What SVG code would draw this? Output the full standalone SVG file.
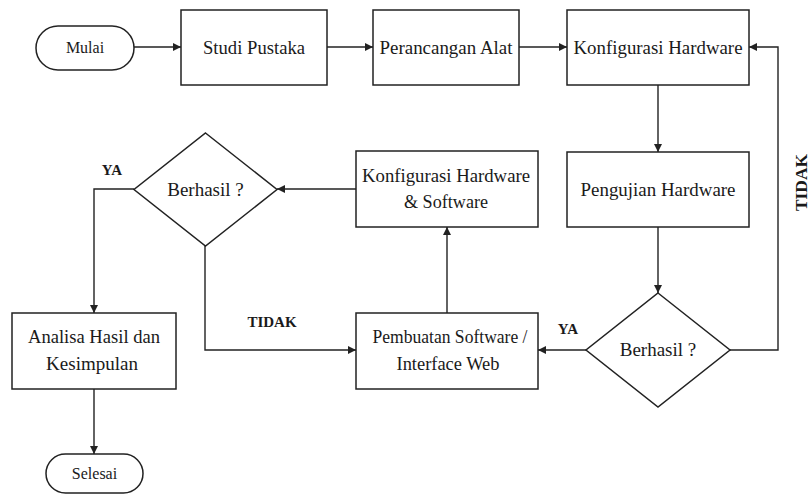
<svg xmlns="http://www.w3.org/2000/svg" width="809" height="495" viewBox="0 0 809 495">
<style>
.b{fill:#fff;stroke:#222;stroke-width:1.5}
.t{font-family:"Liberation Serif","Times New Roman",serif;font-size:19px;fill:#1a1a1a;text-anchor:middle}
.s{font-size:16px}
.l{font-family:"Liberation Serif","Times New Roman",serif;font-size:15px;font-weight:bold;fill:#1a1a1a;text-anchor:middle}
.c{fill:none;stroke:#222;stroke-width:1.4}
</style>
<defs>
<marker id="a" viewBox="0 0 10 10" refX="10" refY="5" markerWidth="8" markerHeight="8" markerUnits="userSpaceOnUse" orient="auto">
<path d="M0,0 L10,5 L0,10 z" fill="#222"/>
</marker>
</defs>
<rect width="809" height="495" fill="#fff"/>
<g id="connectors">
<path class="c" marker-end="url(#a)" d="M134,47 H181"/>
<path class="c" marker-end="url(#a)" d="M327,47 H373"/>
<path class="c" marker-end="url(#a)" d="M519,47 H567"/>
<path class="c" marker-end="url(#a)" d="M658,85 V152"/>
<path class="c" marker-end="url(#a)" d="M658,227 V293"/>
<path class="c" marker-end="url(#a)" d="M730,350 H778 V47 H749"/>
<path class="c" marker-end="url(#a)" d="M586,350 H538"/>
<path class="c" marker-end="url(#a)" d="M447,313 V227"/>
<path class="c" marker-end="url(#a)" d="M356,189 H277"/>
<path class="c" marker-end="url(#a)" d="M134,189 H94 V313"/>
<path class="c" marker-end="url(#a)" d="M205,246 V350 H356"/>
<path class="c" marker-end="url(#a)" d="M94,389 V454"/>
<text class="l" x="568" y="334">YA</text>
<text class="l" x="112" y="175">YA</text>
<text class="l" x="272" y="327">TIDAK</text>
<text class="l" style="font-size:16px" transform="translate(807,182.5) rotate(-90)" textLength="57" lengthAdjust="spacingAndGlyphs">TIDAK</text>
</g>
<g id="mulai">
<rect class="b" x="36" y="26" width="98" height="44" rx="22"/>
<text class="t s" x="85" y="53">Mulai</text>
</g>
<g id="studi">
<rect class="b" x="181" y="10" width="146" height="75"/>
<text class="t" x="254" y="54" textLength="102" lengthAdjust="spacingAndGlyphs">Studi Pustaka</text>
</g>
<g id="perancangan">
<rect class="b" x="373" y="10" width="146" height="75"/>
<text class="t" x="446" y="54" textLength="133" lengthAdjust="spacingAndGlyphs">Perancangan Alat</text>
</g>
<g id="konfigurasi">
<rect class="b" x="567" y="10" width="182" height="75"/>
<text class="t" x="658" y="54" textLength="169" lengthAdjust="spacingAndGlyphs">Konfigurasi Hardware</text>
</g>
<g id="pengujian">
<rect class="b" x="567" y="152" width="182" height="75"/>
<text class="t" x="658" y="196" textLength="155" lengthAdjust="spacingAndGlyphs">Pengujian Hardware</text>
</g>
<g id="berhasil1">
<polygon class="b" points="658,293 730,350 658,407 586,350"/>
<text class="t" x="658" y="356">Berhasil ?</text>
</g>
<g id="pembuatan">
<rect class="b" x="356" y="313" width="182" height="76"/>
<text class="t" x="450" y="343" textLength="155" lengthAdjust="spacingAndGlyphs">Pembuatan Software /</text>
<text class="t" x="448" y="370" textLength="103" lengthAdjust="spacingAndGlyphs">Interface Web</text>
</g>
<g id="konfigurasi2">
<rect class="b" x="356" y="151" width="182" height="76"/>
<text class="t" x="446" y="182" textLength="168" lengthAdjust="spacingAndGlyphs">Konfigurasi Hardware</text>
<text class="t" x="446" y="208" textLength="84" lengthAdjust="spacingAndGlyphs">&amp; Software</text>
</g>
<g id="berhasil2">
<polygon class="b" points="205.5,133 277,189.5 205.5,246 134,189.5"/>
<text class="t" x="205.5" y="196">Berhasil ?</text>
</g>
<g id="analisa">
<rect class="b" x="12" y="313" width="164" height="76"/>
<text class="t" x="94" y="343" textLength="132" lengthAdjust="spacingAndGlyphs">Analisa Hasil dan</text>
<text class="t" x="92" y="370">Kesimpulan</text>
</g>
<g id="selesai">
<rect class="b" x="46" y="454" width="97" height="39" rx="19.5"/>
<text class="t s" x="94.5" y="479">Selesai</text>
</g>
</svg>
